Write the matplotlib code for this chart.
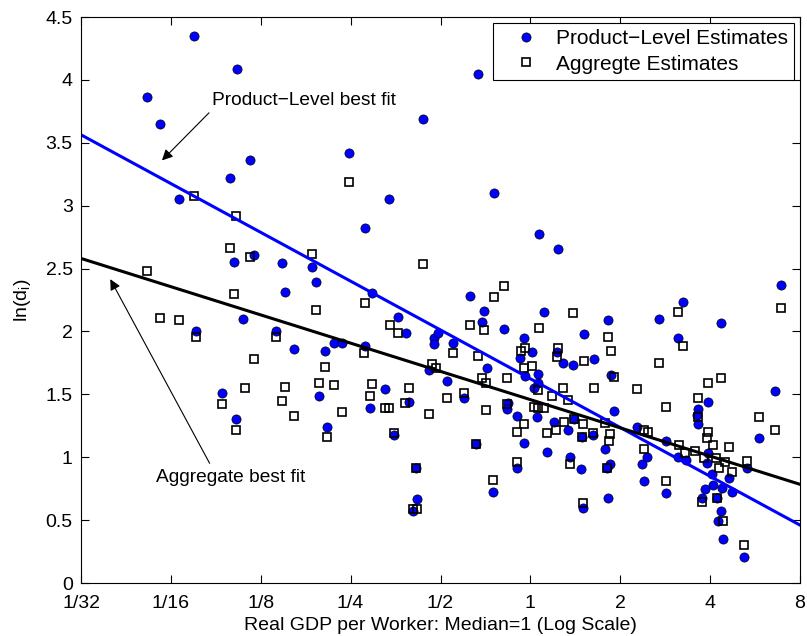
import numpy as np
import matplotlib
matplotlib.use("Agg")
import matplotlib.pyplot as plt

plt.rcParams['font.family'] = ['Liberation Sans', 'DejaVu Sans']
plt.rcParams['mathtext.default'] = 'regular'

# log2 of real GDP per worker (median = 1) and ln(d_i), product-level estimates
prod_log2_gdp = [
    -3.74, -3.265, -4.27, -4.12, -3.12, -3.34, -3.91, -3.30, -3.20, -3.72, -3.435, -3.27,
    -1.196, -2.02, -1.577, -0.58, -0.406, -1.845, -3.076, -2.764, -2.43, -2.383, -2.727,
    -1.763, -1.474, -1.381, -1.07, -1.075, -1.025, -2.83, -2.63, -2.286, -2.19, -2.093,
    -1.845, -1.133, -1.615, -2.35, -1.345, -1.78, -2.26, -1.522, -1.27, -1.262, -1.307,
    0.098, 0.309, -0.67, -0.514, -0.54, 0.153, -0.291, 0.859, 0.599, -0.866, -0.069,
    0.017, 0.295, -0.113, 0.358, 0.469, 0.71, 0.896, -0.487, -0.061, 0.08, -0.929, 0.087,
    0.042, -0.736, -0.254, -0.261, -0.15, 0.072, 0.932, -0.069, 0.265, 0.42, 0.487,
    0.573, 0.699, 0.829, 0.888, 0.851, 0.859, 0.184, 0.443, 0.566, -0.15, -0.603, -0.42,
    0.588, 1.971, 1.86, 1.849, 1.867, 2.542, 1.181, 1.504, 1.30, 1.244, 1.266, 1.507,
    1.644, 1.73, 1.971, 1.96, 2.022, 2.211, 2.034, 2.245, 2.134, 2.405, 1.941, 1.911,
    2.082, 2.119, 2.089, 2.138, 2.375, 2.787, 1.70, 1.43, 2.119, 1.644, 2.72,
]
prod_ln_d = [
    4.35, 4.09, 3.86, 3.65, 3.365, 3.22, 3.05, 2.55, 2.10, 2.00, 1.51, 1.30,
    3.69, 3.42, 3.05, 4.05, 3.10, 2.825, 2.607, 2.546, 2.515, 2.39, 2.313,
    2.303, 2.112, 1.99, 1.945, 1.897, 1.99, 2.006, 1.86, 1.847, 1.905, 1.91,
    1.884, 1.693, 1.542, 1.486, 1.441, 1.389, 1.243, 1.176, 0.917, 0.665, 0.572,
    2.772, 2.653, 2.284, 2.162, 2.072, 2.157, 2.019, 2.09, 1.977, 1.91, 1.95,
    1.839, 1.839, 1.786, 1.746, 1.733, 1.78, 1.653, 1.706, 1.648, 1.661, 1.606, 1.592,
    1.553, 1.473, 1.428, 1.385, 1.33, 1.317, 1.37, 1.111, 1.277, 1.216, 1.304,
    1.158, 1.18, 1.065, 0.944, 0.912, 0.678, 1.039, 1.004, 0.904, 0.912, 1.105, 0.721,
    0.594, 1.436, 1.383, 1.335, 1.262, 1.155, 1.243, 1.131, 1.004, 0.944, 0.813, 0.718,
    1.004, 0.978, 1.031, 0.956, 0.864, 0.832, 0.779, 0.726, 0.753, 0.912, 0.747, 0.673,
    0.673, 0.575, 0.493, 0.347, 0.209, 2.369, 2.236, 2.096, 2.069, 1.945, 1.529,
]

# aggregate estimates
agg_log2_gdp = [
    -3.74, -3.27, -3.34, -3.12, -4.27, -3.30, -4.12, -3.91, -3.72, -3.18, -3.435, -3.27,
    -2.02, -2.43, -1.195, -1.845, -2.39, -1.567, -1.474, -2.83, -1.852, -3.076, -2.286,
    -1.096, -1.05, -2.727, -2.353, -2.186, -1.763, -1.345, -2.764, -1.78,
    -2.634, -2.093, -1.622, -1.578, -1.392, -1.133, -2.26, -1.522, -1.27, -1.307, -1.262,
    -0.298, -0.403, 0.469, -0.67, -0.52, 0.098, 0.859, 0.896, -0.866, -0.58, -0.106,
    -0.061, 0.309, 0.295, 0.599, -0.069, 0.013, -0.261, -0.543, -0.495, 0.358, 0.71,
    0.932, 0.087, -0.929, -0.736, 0.236, 0.414,
    -0.495, -0.261, 0.042, 0.087, 0.153, -0.069, -0.15, 0.284, 0.184, 0.37, 0.487, 0.58,
    0.573, 0.699, 0.829, 0.888, 0.877, 0.851, 0.443, -0.15, -0.603, -0.42, 0.588,
    1.507, 1.867, 1.867, 2.542, 2.727, 1.266, 1.304, 1.266, 1.507, 1.655, 1.718, 1.83,
    1.971, 1.96, 2.034, 2.208, 1.933, 2.07, 2.163, 2.10, 2.238, 2.405, 1.911, 2.082,
    2.145, 2.375, 2.787, 1.644, 1.70, 1.43, 1.188, 1.971, 2.119,
]
agg_ln_d = [
    3.08, 2.917, 2.665, 2.59, 2.483, 2.295, 2.104, 2.09, 1.958, 1.55, 1.42, 1.216,
    3.185, 2.613, 2.533, 2.228, 2.17, 2.05, 1.985, 1.958, 1.831, 1.781, 1.72,
    1.745, 1.71, 1.56, 1.592, 1.574, 1.582, 1.553, 1.45, 1.486,
    1.33, 1.357, 1.389, 1.389, 1.428, 1.341, 1.158, 1.195, 0.917, 0.586, 0.586,
    2.361, 2.276, 2.144, 2.051, 2.011, 2.03, 1.958, 1.847, 1.826, 1.807, 1.847,
    1.866, 1.866, 1.799, 1.765, 1.706, 1.727, 1.632, 1.627, 1.587, 1.553, 1.553,
    1.64, 1.534, 1.47, 1.513, 1.489, 1.455,
    1.375, 1.42, 1.40, 1.394, 1.389, 1.264, 1.203, 1.216, 1.195, 1.282, 1.304, 1.264,
    1.158, 1.19, 1.27, 1.182, 1.129, 0.912, 0.946, 0.96, 1.105, 0.819, 0.634,
    1.40, 1.473, 1.322, 1.322, 1.216, 1.216, 1.198, 1.063, 0.811, 1.097, 1.031, 1.049,
    1.198, 1.15, 1.097, 1.083, 0.996, 0.991, 0.964, 0.912, 0.88, 0.972, 0.646, 0.673,
    0.493, 0.302, 2.188, 2.152, 1.886, 1.746, 1.542, 1.592, 1.632,
]

# best fit lines: ln(d) = a + b * log2(gdp)
prod_fit = (1.624, -0.3879)
agg_fit = (1.458, -0.2245)

x_ticks = [1/32, 1/16, 1/8, 1/4, 1/2, 1, 2, 4, 8]
x_tick_labels = ['1/32', '1/16', '1/8', '1/4', '1/2', '1', '2', '4', '8']
y_ticks = [0, 0.5, 1, 1.5, 2, 2.5, 3, 3.5, 4, 4.5]
y_tick_labels = ['0', '0.5', '1', '1.5', '2', '2.5', '3', '3.5', '4', '4.5']

prod_gdp = 2.0 ** np.array(prod_log2_gdp)
agg_gdp = 2.0 ** np.array(agg_log2_gdp)

fig = plt.figure(figsize=(8.07, 6.36), dpi=100)
ax = fig.add_axes([81/807, 53/636, 719/807, 566/636])

ax.plot(prod_gdp, prod_ln_d, 'o', ms=6.6, mfc=(0, 0, 1), mec='k', mew=0.5,
        label='Product\u2212Level Estimates')
ax.plot(agg_gdp, agg_ln_d, 's', ms=5.6, mfc='none', mec='k', mew=1.2,
        label='Aggregte Estimates')

xl = np.array([1/32, 8])
ax.plot(xl, prod_fit[0] + prod_fit[1] * np.log2(xl), color=(0, 0, 1), lw=2.2)
ax.plot(xl, agg_fit[0] + agg_fit[1] * np.log2(xl), color='k', lw=2.2)

ax.set_xscale('log', base=2)
ax.set_xlim(1/32, 8)
ax.set_ylim(0, 4.5)
ax.set_xticks(x_ticks)
ax.set_xticklabels(x_tick_labels)
ax.set_yticks(y_ticks)
ax.set_yticklabels(y_tick_labels)
ax.minorticks_off()
ax.tick_params(direction='in', top=True, right=True, length=6, width=0.8,
               labelsize=14)
ax.tick_params(axis='x', pad=9)
ax.tick_params(axis='y', pad=6)

ax.set_xlabel('Real GDP per Worker: Median=1 (Log Scale)', fontsize=14, labelpad=3)
ax.set_ylabel('ln(d$_i$)', fontsize=14, labelpad=9)

# annotations
ax.text(2 ** -3.54, 3.84, 'Product\u2212Level best fit', fontsize=13.8, va='center', ha='left')
ax.annotate('', xy=(2 ** -4.121, 3.344), xytext=(2 ** -3.554, 3.754),
            arrowprops=dict(arrowstyle='-|>', color='k', lw=0.8, mutation_scale=16))
ax.text(2 ** -4.17, 0.837, 'Aggregate best fit', fontsize=13.8, va='center', ha='left')
ax.annotate('', xy=(2 ** -4.689, 2.435), xytext=(2 ** -3.554, 0.932),
            arrowprops=dict(arrowstyle='-|>', color='k', lw=0.8, mutation_scale=16))

leg = ax.legend(loc='upper right', fontsize=15, fancybox=False, framealpha=1,
                edgecolor='k', borderaxespad=0.3, handlelength=2.6,
                handletextpad=0.1, borderpad=0.3, labelspacing=0.3)
leg.get_frame().set_linewidth(0.8)

fig.savefig('out.png', dpi=100)
